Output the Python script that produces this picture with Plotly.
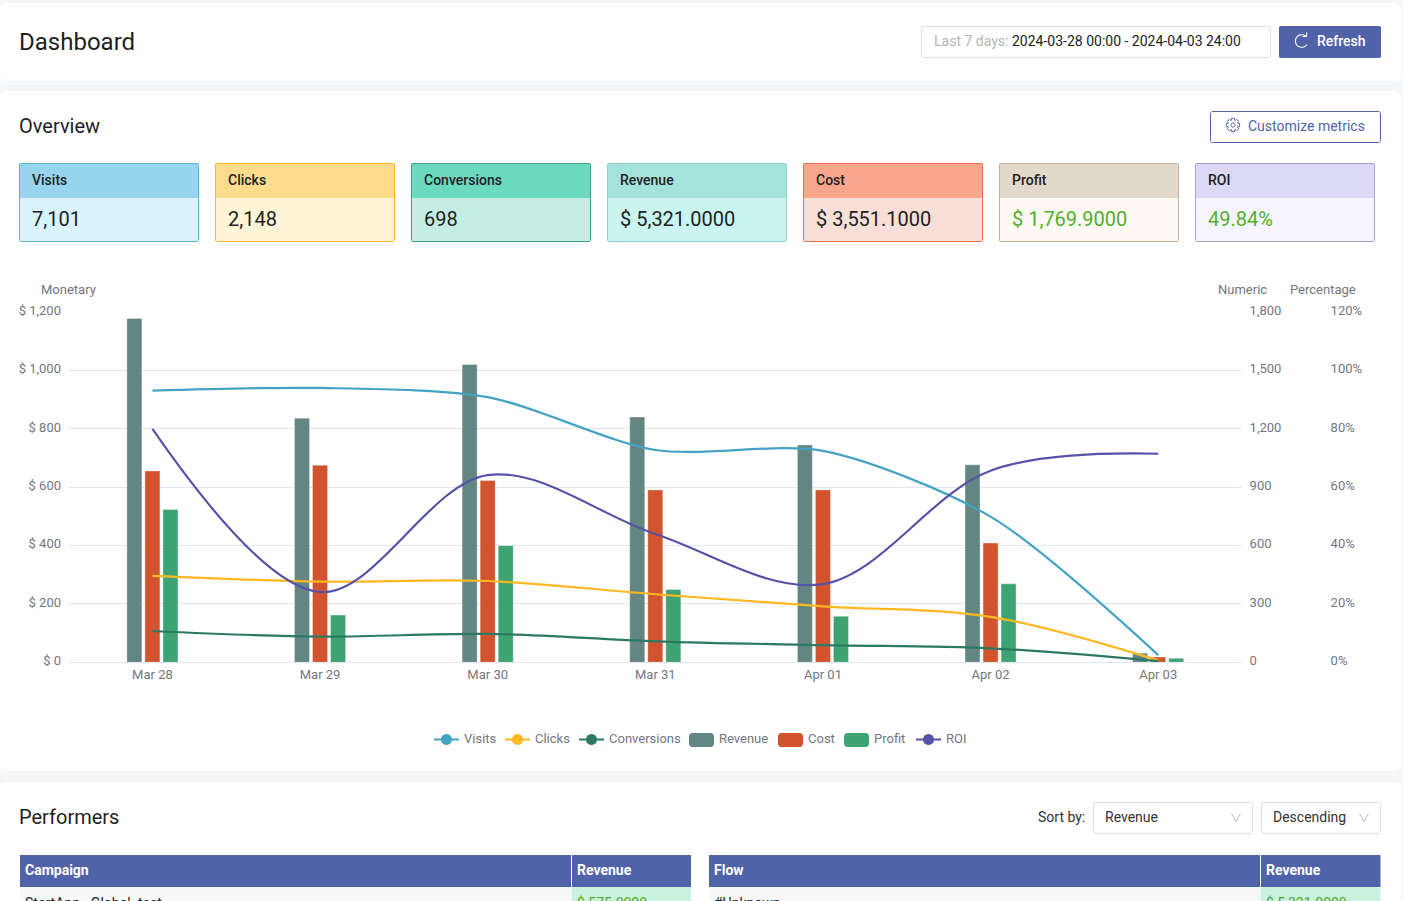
import math
import plotly.graph_objects as go

W, H = 1403, 901

# ---- chart data ----
dates = ["Mar 28", "Mar 29", "Mar 30", "Mar 31", "Apr 01", "Apr 02", "Apr 03"]
revenue = [1179, 837, 1021, 841, 745, 677, 31]
cost = [656, 676, 623, 591, 591, 409, 18]
profit = [524, 162, 400, 250, 158, 269, 14]
visits = [1397, 1411, 1364, 1092, 1087, 749, 37]
clicks = [444, 415, 418, 350, 288, 234, 10]
conversions = [161, 132, 146, 108, 88, 72, 6]
roi = [80.0, 24.1, 64.2, 44.0, 26.8, 65.7, 71.5]

money_ticks = [0, 200, 400, 600, 800, 1000, 1200]
money_labels = ["$ 0", "$ 200", "$ 400", "$ 600", "$ 800", "$ 1,000", "$ 1,200"]
numeric_ticks = [0, 300, 600, 900, 1200, 1500, 1800]
numeric_labels = ["0", "300", "600", "900", "1,200", "1,500", "1,800"]
percent_ticks = [0, 20, 40, 60, 80, 100, 120]
percent_labels = ["0%", "20%", "40%", "60%", "80%", "100%", "120%"]

# ---- page texts ----
metric_names = ["Visits", "Clicks", "Conversions", "Revenue", "Cost", "Profit", "ROI"]
metric_values = ["7,101", "2,148", "698", "$ 5,321.0000", "$ 3,551.1000", "$ 1,769.9000", "49.84%"]
metric_heads = ["#97D5EE", "#FFDC8C", "#6BDABE", "#A3E3DC", "#FAA68D", "#E2D8CB", "#DBD9F5"]
metric_bodies = ["#D9F4FD", "#FFF4D6", "#C4EEE3", "#C9F4EF", "#FADFD8", "#FFF9F4", "#F6F5FF"]
metric_borders = ["#5AB1D0", "#FBB927", "#3F9E85", "#90D4CC", "#E86F4D", "#C9AE94", "#A79EDC"]
metric_value_colors = ["#222", "#222", "#222", "#222", "#222", "#52B02C", "#52B02C"]

PAGE = "#F5F7F9"
BLUE = "#5163A8"
GRID = "#E0E6F1"
AXT = "#74767E"
C_VIS, C_CLK, C_CON = "#45A2C5", "#FFB822", "#2C7A62"
C_REV, C_CST, C_PRF, C_ROI = "#648683", "#D1542E", "#3EA372", "#5652A8"
FONT = "Roboto"

shapes, annos = [], []


def px(x):
    return x / W


def py(y):
    return 1 - y / H


def poly(points, closed=False):
    s = "M" + " L".join(f"{px(x):.6f},{py(y):.6f}" for x, y in points)
    return s + (" Z" if closed else "")


def arc(cx, cy, r, a0, a1, n=24):
    return [(cx + r * math.cos(math.radians(a0 + (a1 - a0) * i / n)),
             cy + r * math.sin(math.radians(a0 + (a1 - a0) * i / n))) for i in range(n + 1)]


def box(x0, y0, x1, y1, fill=None, line=None, lw=1, r=0, layer="below"):
    if r:
        pts = (arc(x1 - r, y0 + r, r, -90, 0, 6) + arc(x1 - r, y1 - r, r, 0, 90, 6) +
               arc(x0 + r, y1 - r, r, 90, 180, 6) + arc(x0 + r, y0 + r, r, 180, 270, 6))
    else:
        pts = [(x0, y0), (x1, y0), (x1, y1), (x0, y1)]
    shapes.append(dict(type="path", xref="paper", yref="paper", path=poly(pts, True),
                       fillcolor=fill or "rgba(0,0,0,0)",
                       line=dict(color=line or "rgba(0,0,0,0)", width=lw if line else 0),
                       layer=layer))


def stroke(points, color, lw=1.2, layer="above", closed=False):
    shapes.append(dict(type="path", xref="paper", yref="paper", path=poly(points, closed),
                       line=dict(color=color, width=lw), layer=layer))


def text(x, y, s, size=14, color="#222", weight=400, anchor="left"):
    annos.append(dict(xref="paper", yref="paper", x=px(x), y=py(y), text=s, showarrow=False,
                      xanchor=anchor, yanchor="middle", borderpad=0, borderwidth=0,
                      font=dict(family=FONT, size=size, color=color, weight=weight)))


# page cards
box(0, 3, 1401, 81, "white", r=6)
box(0, 91, 1401, 771, "white", r=6)
box(0, 782, 1401, 920, "white", r=6)

text(19, 42, "Dashboard", 24, "#1F1F1F")
text(19, 126, "Overview", 20, "#1F1F1F")
text(19, 817, "Performers", 20, "#1F1F1F")

# date box and refresh
box(921.5, 26.5, 1270.5, 57.5, "white", "#DCDEE2", r=2)
text(933.5, 41, "Last 7 days:", 14, "#B4B4B4")
text(1011.5, 41, "2024-03-28 00:00 - 2024-04-03 24:00", 14, "#222")
box(1279, 26, 1381, 58, BLUE, r=2)
stroke(arc(1301.7, 41, 6.3, 35, 315), "white", 1.1)
stroke([(1306.6, 32.3), (1306.6, 36.6), (1302.6, 36.6)], "white", 1)
text(1317, 41, "Refresh", 14, "white", 500)

# customize metrics
box(1210.5, 111.5, 1380.5, 142.5, "white", BLUE, r=2)
gear = []
for k in range(8):
    a = k * 45
    gear += arc(1233, 125, 6.7, a - 12, a + 12, 2) + arc(1233, 125, 5.0, a + 20, a + 25, 1)
stroke(gear, BLUE, 1, closed=True)
stroke(arc(1233, 125, 2.1, 0, 360), BLUE, 1, closed=True)
text(1248, 126, "Customize metrics", 14, BLUE)

# metric cards
for i, name in enumerate(metric_names):
    x0 = 19 + 196 * i
    box(x0 + .5, 163.5, x0 + 179.5, 241.5, metric_bodies[i], None, r=1)
    box(x0 + .5, 163.5, x0 + 179.5, 198, metric_heads[i], None)
    box(x0 + .5, 163.5, x0 + 179.5, 241.5, None, metric_borders[i], 1, r=1)
    text(x0 + 13, 180.5, name, 14, "#222", 500)
    text(x0 + 13, 219, metric_values[i], 20, metric_value_colors[i])

# axis names
text(41, 290, "Monetary", 13, AXT)
text(1218, 290, "Numeric", 13, AXT)
text(1290, 290, "Percentage", 13, AXT)

# chart legend, placed exactly as in the page
line_keys = [("Visits", C_VIS, 434), ("Clicks", C_CLK, 505), ("Conversions", C_CON, 579), ("ROI", C_ROI, 916)]
bar_keys = [("Revenue", C_REV, 689), ("Cost", C_CST, 778), ("Profit", C_PRF, 844)]
for name, col, x in line_keys:
    stroke([(x, 739.5), (x + 25, 739.5)], col, 2)
    box(x + 7, 734, x + 18, 745, col, r=5.5, layer="above")
    text(x + 30, 738.5, name, 13, AXT)
for name, col, x in bar_keys:
    box(x, 733, x + 25, 747, col, r=3.5, layer="above")
    text(x + 30, 738.5, name, 13, AXT)

# sort controls
text(1038, 817, "Sort by:", 14, "#333")
box(1093.5, 802.5, 1252.5, 833.5, "white", "#DCDEE2", r=2)
text(1105, 817, "Revenue", 14, "#333")
stroke([(1231.5, 813.5), (1236, 821), (1240.5, 813.5)], "#BBBBBB", 1)
box(1261.5, 802.5, 1380.5, 833.5, "white", "#DCDEE2", r=2)
text(1273, 817, "Descending", 14, "#333")
stroke([(1359.5, 813.5), (1364, 821), (1368.5, 813.5)], "#BBBBBB", 1)

# performer tables
for x0, xd, x1, first_head, first_cell, rev_cell in [
        (20, 571.5, 691, "Campaign", "StartApp - Global -test", "$ 575.0000"),
        (709, 1260.5, 1380.5, "Flow", "#Unknown", "$ 5,321.0000")]:
    box(x0, 855, x1, 887, BLUE)
    box(x0, 887, xd, 905, "#F8F8F8")
    box(xd, 887, x1, 905, "#C8F2DC")
    stroke([(xd, 855), (xd, 887)], "white", 1, layer="below")
    text(x0 + 5, 870, first_head, 14, "white", 700)
    text(xd + 5.5, 870, "Revenue", 14, "white", 700)
    text(x0 + 5, 903, first_cell, 14, "#222")
    text(xd + 5.5, 903, rev_cell, 14, "#52A82A")

fig = go.Figure()
for name, vals, col in [("Revenue", revenue, C_REV), ("Cost", cost, C_CST), ("Profit", profit, C_PRF)]:
    fig.add_bar(x=dates, y=vals, name=name, yaxis="y", marker=dict(
        color=col, line=dict(color="rgba(255,255,255,0.35)", width=1)))
for name, vals, col, ax, sm in [("Visits", visits, C_VIS, "y2", 0.8), ("Clicks", clicks, C_CLK, "y2", 1.0),
                                ("Conversions", conversions, C_CON, "y2", 1.0), ("ROI", roi, C_ROI, "y3", 1.0)]:
    fig.add_scatter(x=dates, y=vals, name=name, yaxis=ax, mode="lines",
                    line=dict(color=col, width=2.2, shape="spline", smoothing=sm))

tickfont = dict(family=FONT, size=13, color=AXT)
dom = [1 - 662.3 / H, 1 - 312.3 / H]
common = dict(domain=dom, showline=False, zeroline=False, tickfont=tickfont, ticks="outside",
              tickcolor="rgba(0,0,0,0)", tickwidth=1, ticklabelshift=-2)
fig.update_layout(
    width=W, height=H, showlegend=False,
    margin=dict(l=0, r=0, t=0, b=0, autoexpand=False),
    paper_bgcolor=PAGE, plot_bgcolor="rgba(0,0,0,0)",
    barmode="group", bargap=0.677, bargroupgap=0.167,
    font=dict(family=FONT),
    xaxis=dict(domain=[68.6 / W, 1242 / W], type="category", categoryorder="array", categoryarray=dates,
               range=[-0.5, 6.5], showgrid=False, showline=True, linecolor=GRID, linewidth=1,
               zeroline=False, tickfont=tickfont, ticks="outside", ticklen=0, tickcolor="rgba(0,0,0,0)"),
    yaxis=dict(range=[0, 1200], tickvals=money_ticks, ticktext=money_labels, showgrid=True,
               gridcolor=GRID, gridwidth=1, ticklen=4, **common),
    yaxis2=dict(range=[0, 1800], tickvals=numeric_ticks, ticktext=numeric_labels, overlaying="y", side="right",
                anchor="x", showgrid=False, ticklen=4, **common),
    yaxis3=dict(range=[0, 120], tickvals=percent_ticks, ticktext=percent_labels, overlaying="y", side="right",
                anchor="free", position=1322 / W, showgrid=False, ticklen=5, **common),
    shapes=shapes, annotations=annos,
)

fig.write_html("out.html", config=dict(displayModeBar=False),
               post_script="document.body.style.margin='0';document.documentElement.style.overflow='hidden';")
